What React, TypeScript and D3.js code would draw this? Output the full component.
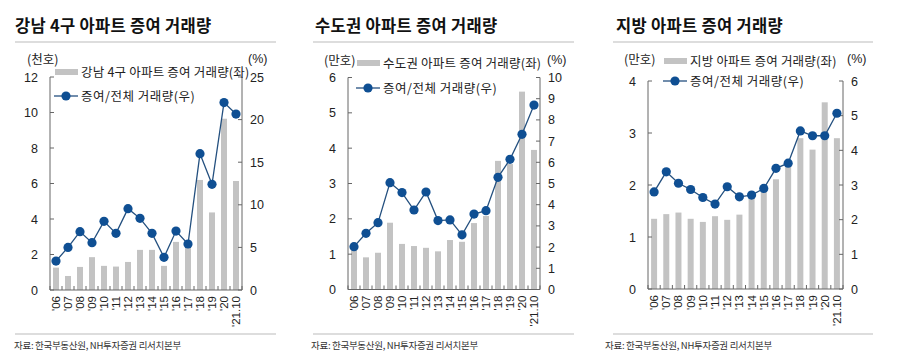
import * as d3 from "d3";

const years = ["'06", "'07", "'08", "'09", "'10", "'11", "'12", "'13", "'14", "'15", "'16", "'17", "'18", "'19", "'20", "'21.10"];

// 강남 4구 (천호, %)
const gangnamVolume = [1.26, 0.79, 1.3, 1.85, 1.36, 1.32, 1.58, 2.26, 2.26, 1.36, 2.71, 2.44, 6.2, 4.37, 9.65, 6.14];
const gangnamRatio = [3.4, 5.0, 6.85, 5.55, 8.06, 6.65, 9.55, 8.41, 6.65, 3.84, 6.92, 5.4, 16.0, 12.4, 22.0, 20.65];

// 수도권 (만호, %)
const capitalVolume = [1.12, 0.91, 1.04, 1.89, 1.29, 1.23, 1.18, 1.08, 1.4, 1.35, 1.88, 2.08, 3.64, 3.55, 5.6, 3.95];
const capitalRatio = [2.02, 2.65, 3.15, 5.04, 4.57, 3.75, 4.6, 3.25, 3.28, 2.58, 3.56, 3.72, 5.29, 6.14, 7.32, 8.7];

// 지방 (만호, %)
const regionVolume = [1.35, 1.44, 1.47, 1.35, 1.29, 1.4, 1.33, 1.43, 1.75, 1.88, 2.11, 2.38, 2.9, 2.68, 3.59, 2.9];
const regionRatio = [2.8, 3.38, 3.05, 2.87, 2.64, 2.45, 2.95, 2.66, 2.71, 2.9, 3.48, 3.63, 4.56, 4.42, 4.42, 5.07];

const gangnamLeftTicks = [0, 2, 4, 6, 8, 10, 12];
const gangnamRightTicks = [0, 5, 10, 15, 20, 25];
const capitalLeftTicks = [0, 1, 2, 3, 4, 5, 6];
const capitalRightTicks = [0, 1, 2, 3, 4, 5, 6, 7, 8, 9, 10];
const regionLeftTicks = [0, 1, 2, 3, 4];
const regionRightTicks = [0, 1, 2, 3, 4, 5, 6];

const titles = ["강남 4구 아파트 증여 거래량", "수도권 아파트 증여 거래량", "지방 아파트 증여 거래량"];
const barLabels = ["강남 4구 아파트 증여 거래량(좌)", "수도권 아파트 증여 거래량(좌)", "지방 아파트 증여 거래량(좌)"];
const units = ["(천호)", "(만호)", "(만호)"];
const lineLabel = "증여/전체 거래량(우)";
const source = "자료: 한국부동산원, NH투자증권 리서치본부";

const BAR = "#c3c3c3";
const NAVY = "#0f4f93";
const LINE = "#24507f";
const AXIS = "#666";
const FONT = "'Liberation Sans', Arial, 'Noto Sans CJK KR', sans-serif";
const KFONT = "'Noto Sans CJK KR', 'Liberation Sans', sans-serif";

type PanelProps = {
  ox: number;
  left: number;
  right: number;
  top: number;
  bottom: number;
  volume: number[];
  ratio: number[];
  leftTicks: number[];
  rightTicks: number[];
  title: string;
  barLabel: string;
  unit: string;
  unitPos: [number, number];
  pctX: number;
  legendX: number;
  legendY: [number, number];
  sepX: [number, number];
  srcX: number;
};

function Panel(p: PanelProps) {
  const x = d3.scaleBand<string>().domain(years).range([p.left, p.right]);
  const yL = d3.scaleLinear().domain([0, d3.max(p.leftTicks)!]).range([p.bottom, p.top]);
  const yR = d3.scaleLinear().domain([0, d3.max(p.rightTicks)!]).range([p.bottom, p.top]);
  const bw = 6;
  const cx = (d: string) => x(d)! + x.bandwidth() / 2;
  const line = d3.line<number>().x((_, i) => cx(years[i])).y(d => yR(d));
  const bounds = d3.range(years.length + 1).map(i => p.left + i * x.step());

  return (
    <g>
      <text x={p.ox} y={32} fontFamily={KFONT} fontWeight={700} fontSize={16.5} letterSpacing={0.3} fill="#111">{p.title}</text>
      <line x1={p.sepX[0]} x2={p.sepX[1]} y1={42} y2={42} stroke="#bbb" strokeWidth={1} />

      {p.volume.map((v, i) => (
        <rect key={i} x={cx(years[i]) - bw / 2} y={yL(v)} width={bw} height={p.bottom - yL(v)} fill={BAR} />
      ))}

      {/* axes */}
      <line x1={p.left} x2={p.left} y1={p.top} y2={p.bottom} stroke={AXIS} />
      <line x1={p.right} x2={p.right} y1={p.top} y2={p.bottom} stroke={AXIS} />
      <line x1={p.left} x2={p.right} y1={p.bottom} y2={p.bottom} stroke={AXIS} />
      {bounds.map((b, i) => (
        <line key={i} x1={b} x2={b} y1={p.bottom} y2={p.bottom - 4} stroke={AXIS} />
      ))}
      {p.leftTicks.map(t => (
        <g key={t}>
          <line x1={p.left} x2={p.left + 4} y1={yL(t)} y2={yL(t)} stroke={AXIS} />
          <text x={p.left - 12} y={yL(t) + 4.5} textAnchor="end" fontFamily={FONT} fontSize={12.5} fill="#222">{t}</text>
        </g>
      ))}
      {p.rightTicks.map(t => (
        <g key={t}>
          <line x1={p.right} x2={p.right - 4} y1={yR(t)} y2={yR(t)} stroke={AXIS} />
          <text x={p.right + 8} y={yR(t) + 4.5} fontFamily={FONT} fontSize={12.5} fill="#222">{t}</text>
        </g>
      ))}
      {years.map(d => (
        <text key={d} transform={`translate(${cx(d) + 4},${p.bottom + 6}) rotate(-90)`} textAnchor="end"
          fontFamily={FONT} fontSize={11.5} fill="#222">{d}</text>
      ))}

      {/* line series */}
      <path d={line(p.ratio)!} fill="none" stroke={LINE} strokeWidth={1.3} />
      {p.ratio.map((v, i) => (
        <circle key={i} cx={cx(years[i])} cy={yR(v)} r={4.6} fill={NAVY} />
      ))}

      {/* units */}
      <text x={p.unitPos[0]} y={p.unitPos[1]} fontFamily={KFONT} fontSize={12.5} fill="#222">{p.unit}</text>
      <text x={p.pctX} y={p.unitPos[1] - 1} fontFamily={FONT} fontSize={12.5} fill="#222">(%)</text>

      {/* legend */}
      <rect x={p.legendX} y={p.legendY[0] - 3} width={23} height={6} fill={BAR} />
      <text x={p.legendX + 26} y={p.legendY[0] + 4.5} fontFamily={KFONT} fontSize={12.5} letterSpacing={0.2} fill="#222">{p.barLabel}</text>
      <line x1={p.legendX - 1} x2={p.legendX + 23} y1={p.legendY[1]} y2={p.legendY[1]} stroke={LINE} strokeWidth={1.3} />
      <circle cx={p.legendX + 11} cy={p.legendY[1]} r={4.6} fill={NAVY} />
      <text x={p.legendX + 26} y={p.legendY[1] + 4.5} fontFamily={KFONT} fontSize={12.5} letterSpacing={0.5} fill="#222">{lineLabel}</text>

      <line x1={p.sepX[0]} x2={p.sepX[1]} y1={334} y2={334} stroke="#bbb" strokeWidth={1} />
      <text x={p.srcX} y={349} fontFamily={KFONT} fontSize={9.5} fill="#333" letterSpacing={-0.3}>{source}</text>
    </g>
  );
}

export default function App() {
  return (
    <svg width={900} height={360} style={{ position: "absolute", left: 0, top: 0, background: "#fff" }}>
      <rect width={900} height={360} fill="#fff" />
      <Panel ox={15} left={50} right={242} top={77} bottom={290}
        volume={gangnamVolume} ratio={gangnamRatio} leftTicks={gangnamLeftTicks} rightTicks={gangnamRightTicks}
        title={titles[0]} barLabel={barLabels[0]} unit={units[0]} unitPos={[27, 64]} pctX={248}
        legendX={55} legendY={[72, 96]} sepX={[15, 276]} srcX={14} />
      <Panel ox={315} left={348} right={540} top={77.5} bottom={289.5}
        volume={capitalVolume} ratio={capitalRatio} leftTicks={capitalLeftTicks} rightTicks={capitalRightTicks}
        title={titles[1]} barLabel={barLabels[1]} unit={units[1]} unitPos={[324, 65]} pctX={547}
        legendX={357} legendY={[63, 88]} sepX={[313, 574]} srcX={311} />
      <Panel ox={616} left={648} right={843} top={81} bottom={289}
        volume={regionVolume} ratio={regionRatio} leftTicks={regionLeftTicks} rightTicks={regionRightTicks}
        title={titles[2]} barLabel={barLabels[2]} unit={units[2]} unitPos={[624, 64]} pctX={847}
        legendX={664} legendY={[61, 81]} sepX={[613, 873]} srcX={605} />
    </svg>
  );
}
